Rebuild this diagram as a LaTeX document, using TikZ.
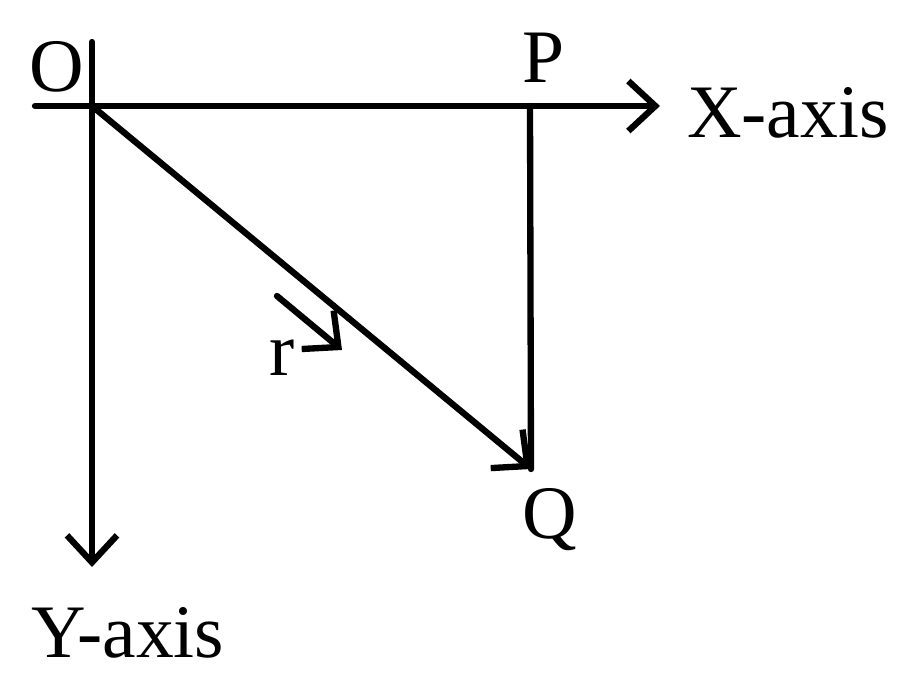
\documentclass[tikz,border=0pt]{standalone}
\usepackage{fontspec}
\setmainfont{Liberation Serif}
\newfontfamily\lblfont{Liberation Serif}
\usepackage{tikz}
\usetikzlibrary{arrows.meta}
\tikzstyle{lbl}=[inner sep=0pt,anchor=base west,font=\lblfont\fontsize{43}{50}\selectfont]
\tikzstyle{arrow}=[-{Straight Barb[length=0.54cm,width=1cm]}]
\tikzset{every picture/.style={
    line width=3.6pt,
    line cap=round
  }
}

\begin{document}
\begin{tikzpicture}[x=0.02cm,y=-0.02cm]
      \useasboundingbox (0,0) rectangle (900,677);
      \coordinate (o) at (92,106);
      \coordinate (xs) at (35,106);
      \coordinate (ys) at (92,42);
      \coordinate (xe) at (660,106);
      \coordinate (ye) at (92,567);
      \coordinate (p) at (530,106);
      \coordinate (q) at (531,469);
      \coordinate (rs) at (277,296);
      \coordinate (re) at (342,350);
      \node[lbl] at (26,91) (O) {O};
      \node[lbl] at (519,82) (P) {P};
      \node[lbl] at (519,538) (Q) {Q};
      \node[lbl] at (266,375) (r) {r};
      \node[lbl] at (684,137) (X) {X-axis};
      \node[lbl] at (28,657) (Y) {Y-axis};
      \draw[arrow] (xs)--(xe);
      \draw[arrow] (ys)--(ye);
      \draw (p)--(q);
      \draw[arrow] (o)--(q);
      \draw[arrow] (rs)--(re);
    \end{tikzpicture}
\end{document}
